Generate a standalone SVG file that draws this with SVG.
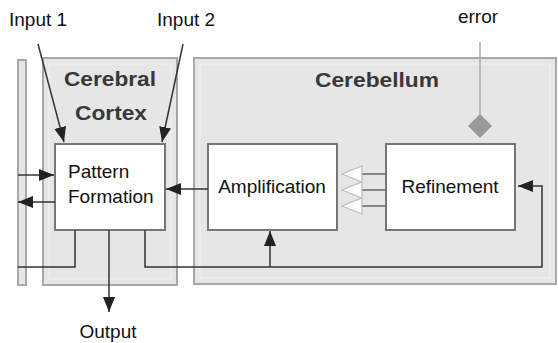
<svg xmlns="http://www.w3.org/2000/svg" width="558" height="343" viewBox="0 0 558 343">
<style>
.panel{fill:#e6e6e6;stroke:#a8a8a8;stroke-width:2}
.inner{fill:none;stroke:#f0f0f0;stroke-width:1}
.box{fill:#fff;stroke:#777;stroke-width:2}
.lbl{font-family:"Liberation Sans",Arial,sans-serif;font-size:19px;fill:#111}
.ttl{font-family:"Liberation Sans",Arial,sans-serif;font-size:21px;font-weight:bold;fill:#383838}
.wire{fill:none;stroke:#333;stroke-width:1.5}
.hollow{fill:none;stroke:#666;stroke-width:1.5}
</style>
<defs>
<marker id="ah" viewBox="0 0 15 12" refX="15" refY="6" markerWidth="15" markerHeight="12" markerUnits="userSpaceOnUse" orient="auto">
<path d="M0,0 L15,6 L0,12 z" fill="#222"/>
</marker>
<marker id="hh" viewBox="0 0 22 18" refX="21" refY="9" markerWidth="22" markerHeight="18" markerUnits="userSpaceOnUse" orient="auto">
<path d="M1,1 L21,9 L1,17 z" fill="#fff" stroke="#bbb" stroke-width="1.2"/>
</marker>
</defs>
<rect width="558" height="343" fill="#fff"/>
<g id="left-panel">
<rect class="panel" x="18" y="60" width="8" height="225"/>
</g>
<g id="cerebral-cortex">
<rect class="panel" x="43" y="58" width="134" height="227"/>
<rect class="inner" x="49" y="64" width="122" height="215"/>
<text class="ttl" x="110" y="86" text-anchor="middle" textLength="92" lengthAdjust="spacingAndGlyphs">Cerebral</text>
<text class="ttl" x="111" y="120" text-anchor="middle" textLength="72" lengthAdjust="spacingAndGlyphs">Cortex</text>
</g>
<g id="cerebellum">
<rect class="panel" x="194" y="58" width="362" height="226"/>
<rect class="inner" x="200" y="64" width="350" height="214"/>
<text class="ttl" x="315" y="87" textLength="124" lengthAdjust="spacingAndGlyphs">Cerebellum</text>
</g>
<g id="pattern-formation">
<rect class="box" x="55" y="144" width="110" height="86"/>
<text class="lbl" x="68" y="178">Pattern</text>
<text class="lbl" x="68" y="203">Formation</text>
</g>
<g id="amplification">
<rect class="box" x="208" y="144" width="129" height="86"/>
<text class="lbl" x="272" y="193" text-anchor="middle">Amplification</text>
</g>
<g id="refinement">
<rect class="box" x="386" y="144" width="129" height="86"/>
<text class="lbl" x="450" y="193" text-anchor="middle">Refinement</text>
</g>
<g id="input-1"><text class="lbl" x="9" y="26">Input 1</text></g>
<g id="input-2"><text class="lbl" x="157" y="26">Input 2</text></g>
<g id="error"><text class="lbl" x="478" y="23" text-anchor="middle">error</text></g>
<g id="output"><text class="lbl" x="108" y="338" text-anchor="middle">Output</text></g>
<g id="connectors">
<line class="wire" x1="38" y1="44" x2="64" y2="142" marker-end="url(#ah)"/>
<line class="wire" x1="183" y1="44" x2="162" y2="142" marker-end="url(#ah)"/>
<line class="wire" x1="18" y1="175" x2="54" y2="175" marker-end="url(#ah)"/>
<line class="wire" x1="55" y1="202" x2="18" y2="202" marker-end="url(#ah)"/>
<line class="wire" x1="208" y1="189" x2="166" y2="189" marker-end="url(#ah)"/>
<polyline class="wire" points="75,230 75,267 18,267"/>
<line class="wire" x1="109" y1="230" x2="109" y2="312" marker-end="url(#ah)"/>
<polyline class="wire" points="145,230 145,267 542,267 542,186 518,186" marker-end="url(#ah)"/>
<line class="wire" x1="270" y1="267" x2="270" y2="231" marker-end="url(#ah)"/>
<line class="hollow" x1="386" y1="174" x2="342" y2="174" marker-end="url(#hh)"/>
<line class="hollow" x1="386" y1="190" x2="342" y2="190" marker-end="url(#hh)"/>
<line class="hollow" x1="386" y1="206" x2="342" y2="206" marker-end="url(#hh)"/>
<line x1="480" y1="42" x2="480" y2="115" stroke="#aaa" stroke-width="1.5"/>
<polygon points="480,114 492,126 480,138 468,126" fill="#999"/>
</g>
</svg>
